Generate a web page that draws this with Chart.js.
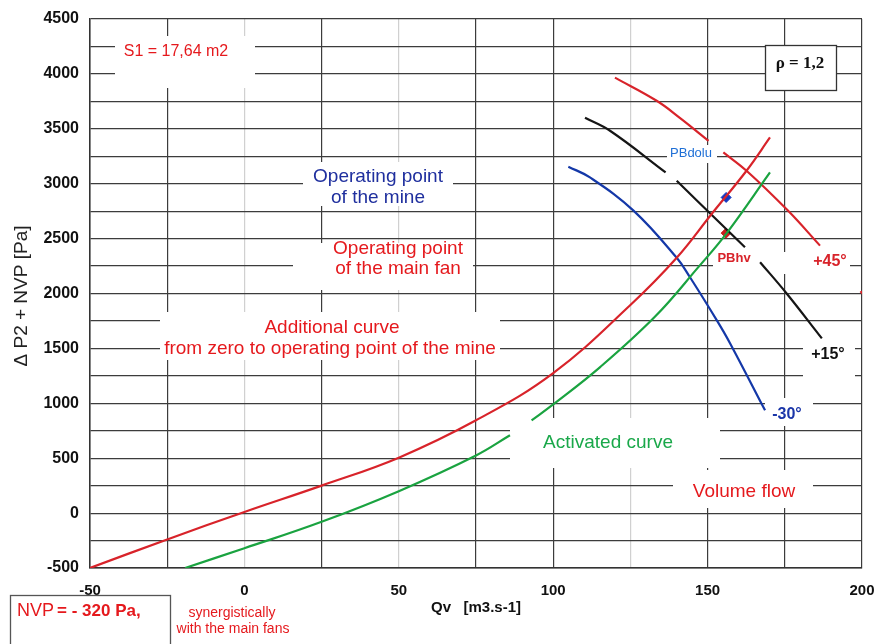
<!DOCTYPE html>
<html>
<head>
<meta charset="utf-8">
<script src="https://cdn.jsdelivr.net/npm/chart.js@4.4.1/dist/chart.umd.min.js"></script>
<style>
  html, body { margin: 0; padding: 0; background: #fff; }
  #wrap { width: 878px; height: 644px; }
</style>
</head>
<body>
<div id="wrap"><canvas id="fanChart" width="878" height="644"></canvas></div>
<script>
// tick labels that are printed (grid runs every 25 / 250)
const xTickLabels = [-50, 0, 50, 100, 150, 200];
const yTickLabels = [-500, 0, 500, 1000, 1500, 2000, 2500, 3000, 3500, 4000, 4500];
const xFaintGrid = [0, 50, 125];

// additional curve (red), Qv -> dP2 + NVP
const additionalQ = [-50, -25, 0, 25, 50, 75, 100, 125, 140, 151.3, 162.6, 170.2];
const additionalP = [-500, -240, 10, 250, 505, 845, 1275, 1895, 2325, 2724, 3118, 3421];

// activated curve (green), null = gap in the line
const activatedQ = [-19.2, 0, 25, 50, 75, 86, 89.5, 93, 100, 115.2, 133, 147, 156.2, 170.2];
const activatedP = [-500, -320, -79, 200, 525, 709, null, 845, 990, 1330, 1790, 2240, 2550, 3103];

// fan characteristics by blade angle
const minus30Q = [104.9, 111.9, 126, 140, 144.3, 153, 157.3, 168.6];
const minus30P = [3155, 3057, 2755, 2325, 2148, 1755, 1545, 936];

const plus15Q = [110.3, 118.4, 136.4, 138.3, 140, 146.6, 162.1, 164.6, 167, 175.6, 187];
const plus15P = [3600, 3482, 3103, null, 3027, 2845, 2421, null, 2285, 2000, 1591];

const plus45Q = [120, 133.5, 141, 150.3, 152.7, 155.1, 162.6, 176, 186.4, 193, 199.5, 201];
const plus45P = [3966, 3755, 3600, 3391, null, 3285, 3118, 2755, 2436, null, 2020, 1975];

// operating points
const pbDoluQ = [156];
const pbDoluP = [2875];
const pbHvQ = [156];
const pbHvP = [2550];

const toPoints = (qs, ps) => qs.map((q, i) => ({ x: q, y: ps[i] }));

const curve = (label, qs, ps, color) => ({
    label: label,
    data: toPoints(qs, ps),
    showLine: true,
    borderColor: color,
    borderWidth: 2.2,
    pointRadius: 0,
    tension: 0.4,
    spanGaps: false
});

const marker = (label, qs, ps, color) => ({
    label: label,
    data: toPoints(qs, ps),
    showLine: false,
    pointStyle: 'rectRot',
    pointRadius: 5,
    backgroundColor: color,
    borderColor: color
});

// white patches of the pasted labels on the paper grid
const whiteouts = [
    [115, 36, 140, 52],
    [303, 162, 150, 44],
    [293, 243, 180, 47],
    [160, 312, 340, 48],
    [510, 418, 210, 50],
    [673, 470, 140, 38],
    [765, 398, 48, 28],
    [803, 335, 52, 45],
    [752, 252, 98, 22],
    [713, 250, 40, 18],
    [667, 145, 50, 18]
];

const RED = '#e5191d';
const texts = [
    { t: 'S1 = 17,64 m2', x: 176, y: 52, font: '16px "Liberation Sans"', c: RED },
    { t: 'Operating point', x: 378, y: 177, font: '19px "Liberation Sans"', c: '#1f2f9e' },
    { t: 'of the mine', x: 378, y: 198, font: '19px "Liberation Sans"', c: '#1f2f9e' },
    { t: 'Operating point', x: 398, y: 249, font: '19px "Liberation Sans"', c: RED },
    { t: 'of the main fan', x: 398, y: 269, font: '19px "Liberation Sans"', c: RED },
    { t: 'Additional curve', x: 332, y: 328, font: '19px "Liberation Sans"', c: RED },
    { t: 'from zero to operating point of the mine', x: 330, y: 349, font: '19px "Liberation Sans"', c: RED },
    { t: 'Activated curve', x: 608, y: 443, font: '19px "Liberation Sans"', c: '#1aa84a' },
    { t: 'Volume flow', x: 744, y: 492, font: '19px "Liberation Sans"', c: RED },
    { t: '-30°', x: 787, y: 415, font: 'bold 16px "Liberation Sans"', c: '#1a35a8' },
    { t: '+15°', x: 828, y: 355, font: 'bold 16px "Liberation Sans"', c: '#111' },
    { t: '+45°', x: 830, y: 262, font: 'bold 16px "Liberation Sans"', c: '#d8232a' },
    { t: 'PBdolu', x: 691, y: 153, font: '13px "Liberation Sans"', c: '#1e6fd6' },
    { t: 'PBhv', x: 734, y: 258, font: 'bold 13px "Liberation Sans"', c: '#d8232a' },
    { t: 'ρ = 1,2', x: 800, y: 64, font: 'bold 17px "Liberation Serif"', c: '#111' },
    { t: 'Qv   [m3.s-1]', x: 476, y: 608, font: 'bold 15px "Liberation Sans"', c: '#111' },
    { t: 'synergistically', x: 232, y: 613, font: '14px "Liberation Sans"', c: RED },
    { t: 'with the main fans', x: 233, y: 629, font: '14px "Liberation Sans"', c: RED }
];

const paperLabels = {
    id: 'paperLabels',
    beforeDatasetsDraw(chart) {
        const ctx = chart.ctx;
        ctx.save();
        ctx.fillStyle = '#fff';
        whiteouts.forEach(r => ctx.fillRect(r[0], r[1], r[2], r[3]));
        // rho box
        ctx.fillRect(765, 45, 72, 46);
        ctx.strokeStyle = '#333';
        ctx.lineWidth = 1.3;
        ctx.strokeRect(765.5, 45.5, 71, 45);
        ctx.restore();
    },
    afterDraw(chart) {
        const ctx = chart.ctx;
        ctx.save();
        ctx.textAlign = 'center';
        ctx.textBaseline = 'middle';
        texts.forEach(o => {
            ctx.font = o.font;
            ctx.fillStyle = o.c;
            ctx.fillText(o.t, o.x, o.y);
        });

        // y axis title
        ctx.save();
        ctx.translate(22, 296);
        ctx.rotate(-Math.PI / 2);
        ctx.font = '19px "Liberation Sans"';
        ctx.fillStyle = '#222';
        ctx.fillText('Δ P2 + NVP [Pa]', 0, 0);
        ctx.restore();

        // NVP box
        ctx.fillStyle = '#fff';
        ctx.fillRect(10, 595, 160, 60);
        ctx.strokeStyle = '#555';
        ctx.lineWidth = 1.3;
        ctx.strokeRect(10.5, 595.5, 160, 60);
        ctx.textAlign = 'left';
        ctx.fillStyle = RED;
        ctx.font = '18px "Liberation Sans"';
        ctx.fillText('NVP', 17, 611);
        const w = ctx.measureText('NVP ').width;
        ctx.font = 'bold 17px "Liberation Sans"';
        ctx.fillText('= - 320 Pa,', 17 + w - 2, 611);
        ctx.restore();
    }
};

new Chart(document.getElementById('fanChart'), {
    type: 'scatter',
    data: {
        datasets: [
            curve('Additional curve', additionalQ, additionalP, '#d8232a'),
            curve('Activated curve', activatedQ, activatedP, '#1aa340'),
            curve('-30°', minus30Q, minus30P, '#1438a8'),
            curve('+15°', plus15Q, plus15P, '#151515'),
            curve('+45°', plus45Q, plus45P, '#d8232a'),
            marker('PBdolu', pbDoluQ, pbDoluP, '#1438c0'),
            marker('PBhv', pbHvQ, pbHvP, '#c81e1e')
        ]
    },
    options: {
        responsive: false,
        animation: false,
        layout: { padding: { left: 0, top: 19, right: 16, bottom: 0 } },
        plugins: {
            legend: { display: false },
            tooltip: { enabled: false }
        },
        scales: {
            x: {
                type: 'linear',
                min: -50,
                max: 200,
                afterFit: s => {
                    s.height = 76;
                    s.paddingLeft = 0;
                    s.paddingRight = 0;
                },
                ticks: {
                    stepSize: 25,
                    autoSkip: false,
                    maxRotation: 0,
                    padding: 14,
                    color: '#111',
                    font: { family: 'Liberation Sans', size: 15, weight: 'bold' },
                    callback: v => xTickLabels.includes(v) ? String(v) : ''
                },
                grid: {
                    drawTicks: false,
                    lineWidth: 1.2,
                    color: c => xFaintGrid.includes(c.tick && c.tick.value) ? 'rgba(150,150,150,0.45)' : '#3c3c3c'
                },
                border: { display: true, color: '#333', width: 1.5 }
            },
            y: {
                type: 'linear',
                min: -500,
                max: 4500,
                afterFit: s => {
                    s.width = 90;
                    s.paddingTop = 0;
                    s.paddingBottom = 0;
                },
                ticks: {
                    stepSize: 250,
                    autoSkip: false,
                    padding: 11,
                    color: '#111',
                    font: { family: 'Liberation Sans', size: 16, weight: 'bold' },
                    callback: v => yTickLabels.includes(v) ? String(v) : ''
                },
                grid: {
                    drawTicks: false,
                    lineWidth: 1.2,
                    color: '#3c3c3c'
                },
                border: { display: true, color: '#333', width: 1.5 }
            }
        }
    },
    plugins: [paperLabels]
});
</script>
</body>
</html>
